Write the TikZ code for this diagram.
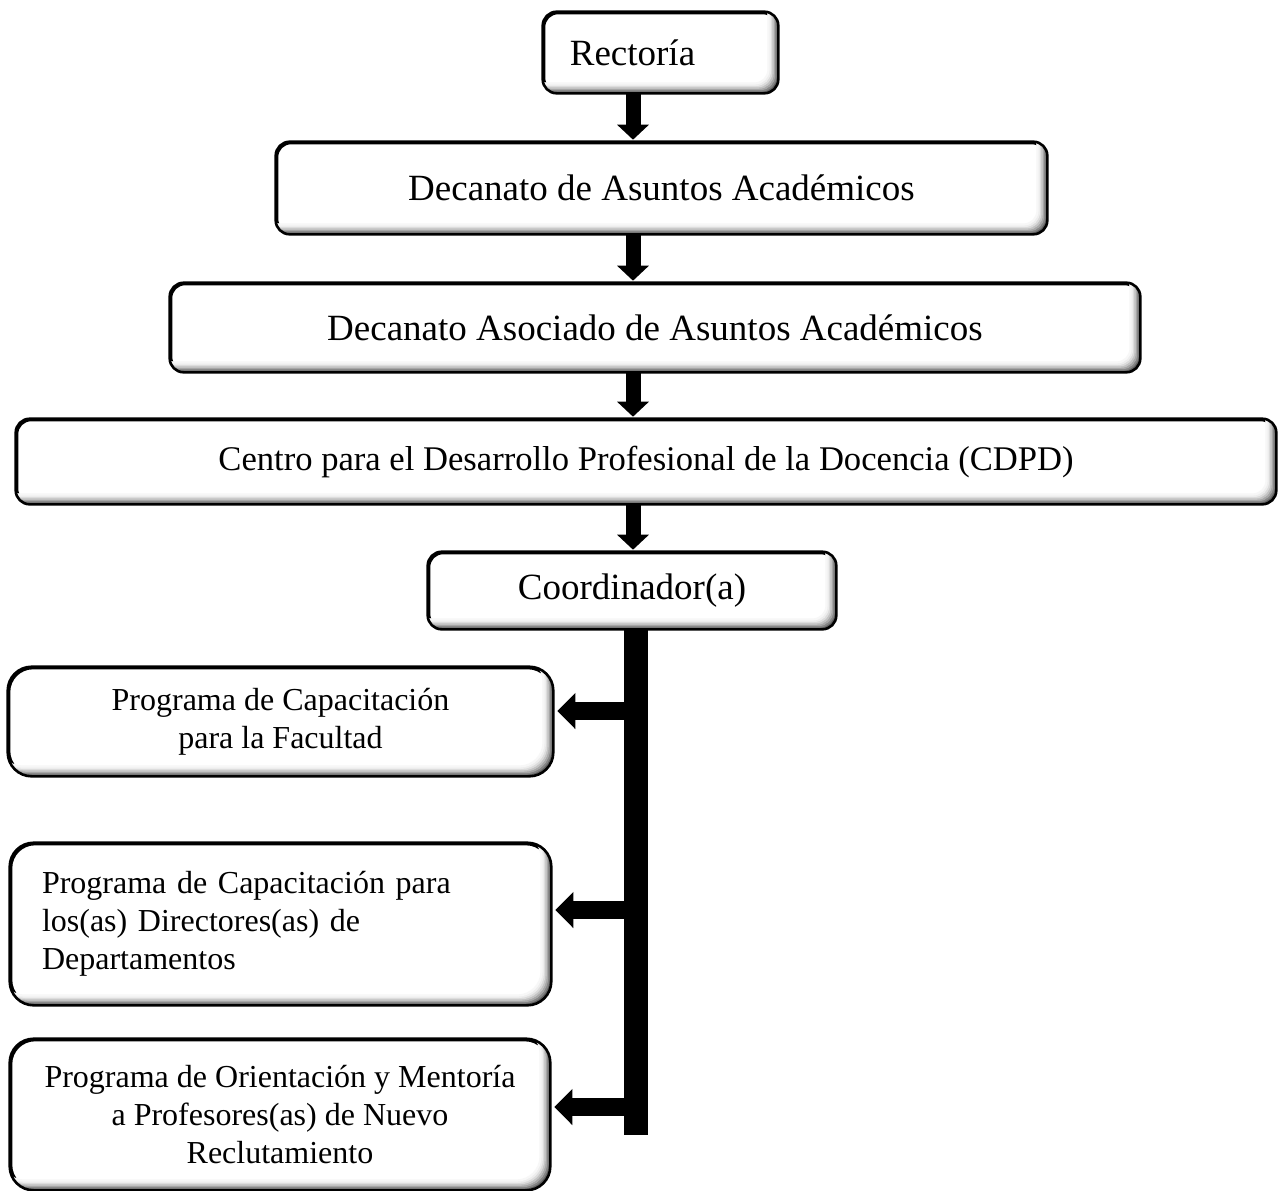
\documentclass[tikz,border=0pt]{standalone}
\usepackage{fontspec}
\setmainfont{Liberation Serif}
\usetikzlibrary{arrows.meta,calc}
\begin{document}
\begin{tikzpicture}[x=0.5pt,y=-0.5pt,
  box/.style={draw=black, line width=1.3pt, fill=white, inner sep=0pt, rounded corners=7pt},
  big/.style={font=\fontsize{18.5}{22}\selectfont},
  mid/.style={font=\fontsize{17.3}{21}\selectfont},
  prog/.style={font=\fontsize{16}{19}\selectfont, rounded corners=12pt},
  varrow/.style={line width=7.5pt, -{Triangle[length=7.5pt,width=15.5pt]}, shorten >=1pt},
  harrow/.style={line width=9pt, -{Triangle[length=9pt,width=17.5pt]}, shorten >=2pt},
  barline/.style={line width=12pt}]
\useasboundingbox (0,0) rectangle (1278,1190);

\node[box,big,minimum width=116.5pt,minimum height=39.5pt] (R) at (660.5,52.5) {Rectoría\hspace*{28pt}};
\node[box,big,minimum width=384.5pt,minimum height=45pt] (D1) at (661.5,188) {Decanato de Asuntos Académicos};
\node[box,big,minimum width=484pt,minimum height=43.5pt] (D2) at (655,327.5) {Decanato Asociado de Asuntos Académicos};
\node[box,mid,minimum width=629pt,minimum height=41.5pt] (C) at (646,461.5) {Centro para el Desarrollo Profesional de la Docencia (CDPD)};
\node[box,big,minimum width=203pt,minimum height=37.5pt] (Co) at (632,590.5) {Coordinador(a)};
\node[box,prog,minimum width=271.5pt,minimum height=53.5pt,align=center] (P1) at (280.5,721.5) {Programa de Capacitación\\para la Facultad};
\node[box,prog,text width=238.5pt,inner xsep=15.5pt,minimum height=80pt,align=left] (P2) at (280.5,924) {Programa de Capacitación para\\los(as) Directores(as) de\\Departamentos};
\node[box,prog,minimum width=269pt,minimum height=74.5pt,align=center] (P3) at (280,1114.5) {Programa de Orientación y Mentoría\\a Profesores(as) de Nuevo\\Reclutamiento};

\foreach \n/\r in {R/7,D1/7,D2/7,C/7,Co/7,P1/12,P2/12,P3/12}{
  \begin{scope}
    \clip[rounded corners=\r pt] (\n.south west) rectangle (\n.north east);
    \foreach \sk/\sg in {0.7/62,1.4/48,2.1/35,2.8/24,3.5/14,4.2/7,4.9/3}{
      \draw[black!\sg, line width=1.1pt, rounded corners=\r pt]
        ($(\n.south west)+(-\sk pt,\sk pt)$) rectangle ($(\n.north east)+(-\sk pt,\sk pt)$);
    }
  \end{scope}
  \draw[line width=1.3pt, rounded corners=\r pt] (\n.south west) rectangle (\n.north east);
}

\coordinate (ax) at (633,0);
\draw[varrow] (R.south -| ax) -- (D1.north -| ax);
\draw[varrow] (D1.south -| ax) -- (D2.north -| ax);
\draw[varrow] (D2.south -| ax) -- (C.north -| ax);
\draw[varrow] (C.south -| ax) -- (Co.north -| ax);

\coordinate (be) at (636,1135);
\draw[barline] (Co.south -| be) -- (be);

\coordinate (h1) at (636,711);
\coordinate (h2) at (636,910);
\coordinate (h3) at (636,1107);
\draw[harrow] (h1) -- (h1 -| P1.east);
\draw[harrow] (h2) -- (h2 -| P2.east);
\draw[harrow] (h3) -- (h3 -| P3.east);
\end{tikzpicture}
\end{document}
